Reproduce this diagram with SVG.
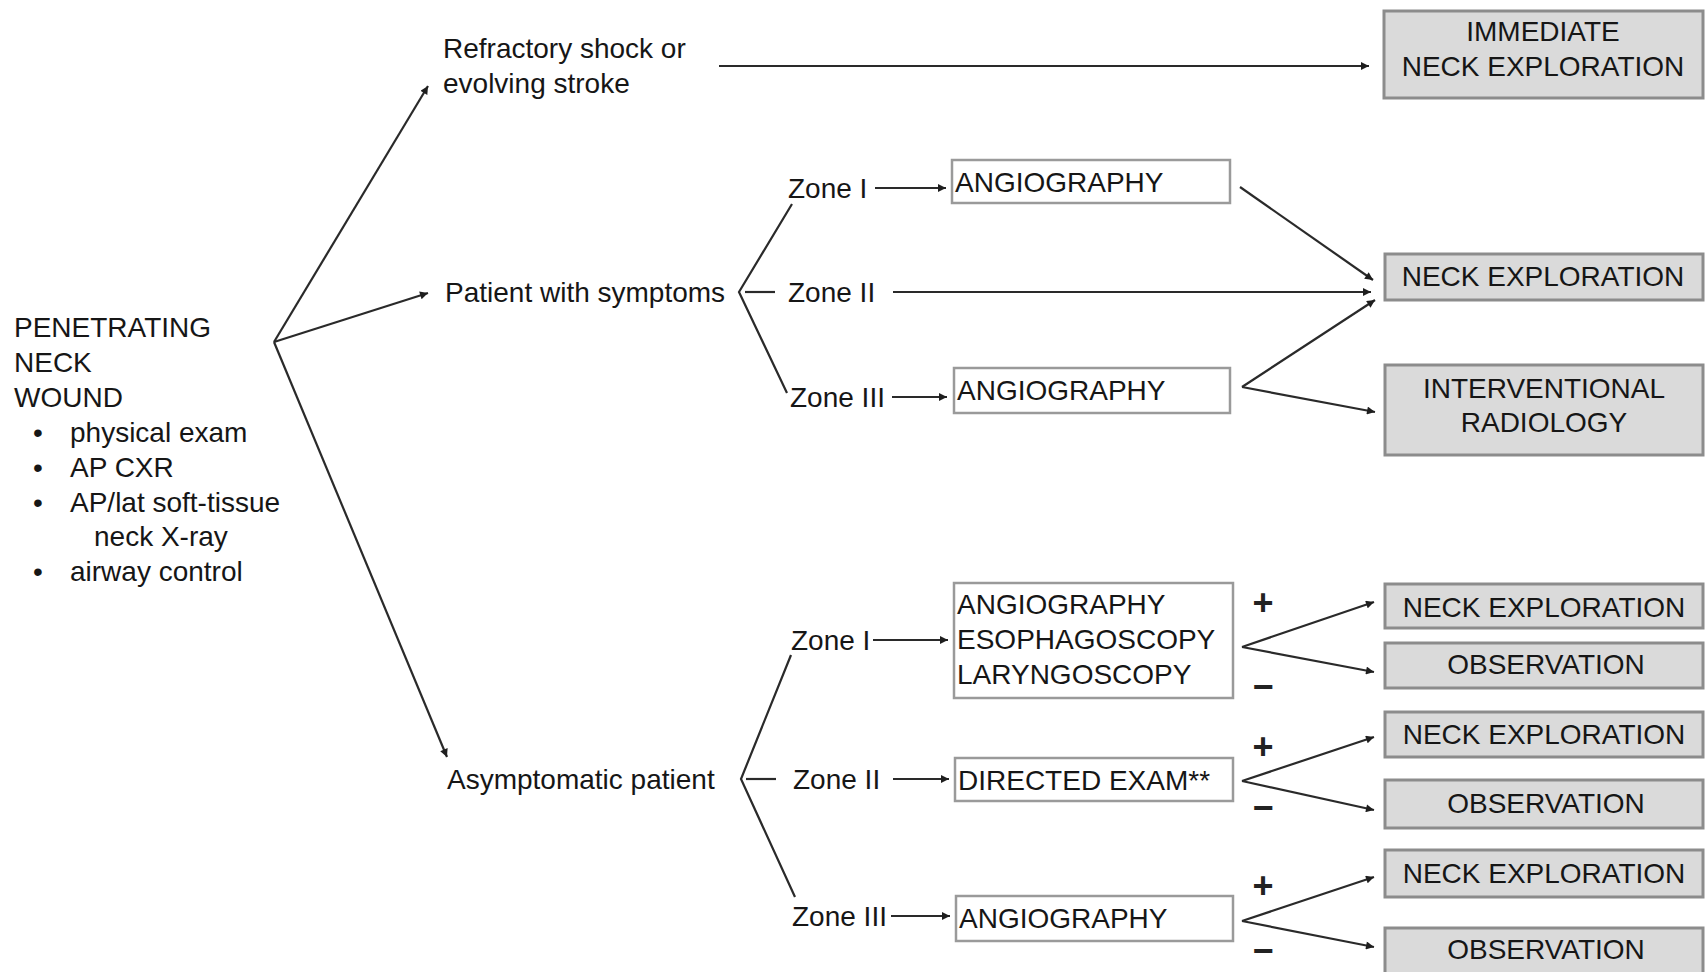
<svg xmlns="http://www.w3.org/2000/svg" width="1707" height="972" viewBox="0 0 1707 972">
<style>
.t{font-family:"Liberation Sans",Arial,sans-serif;font-size:28px;fill:#161616}
.c{text-anchor:middle}
.pm{font-family:"Liberation Sans",Arial,sans-serif;font-size:36px;font-weight:bold;fill:#222222;text-anchor:middle}
.gbox{fill:#dadada;stroke:#8c8c8c;stroke-width:3}
.wbox{fill:#ffffff;stroke:#9a9a9a;stroke-width:2.5}
.ln{stroke:#2a2a2a;stroke-width:2.2;fill:none}
.ar{marker-end:url(#ah)}
</style>
<defs>
<marker id="ah" viewBox="0 0 10 10" refX="10" refY="5" markerWidth="10" markerHeight="8" markerUnits="userSpaceOnUse" orient="auto">
<path d="M0,0 L10,5 L0,10 z" fill="#1e1e1e"/>
</marker>
</defs>
<rect width="1707" height="972" fill="#ffffff"/>

<g id="root">
<text class="t" x="14" y="337">PENETRATING</text>
<text class="t" x="14" y="372">NECK</text>
<text class="t" x="14" y="407">WOUND</text>
<text class="t" x="33" y="442">•</text><text class="t" x="70" y="442">physical exam</text>
<text class="t" x="33" y="477">•</text><text class="t" x="70" y="477">AP CXR</text>
<text class="t" x="33" y="512">•</text><text class="t" x="70" y="512">AP/lat soft-tissue</text>
<text class="t" x="94" y="546">neck X-ray</text>
<text class="t" x="33" y="581">•</text><text class="t" x="70" y="581">airway control</text>
</g>

<g id="refractory">
<text class="t" x="443" y="58">Refractory shock or</text>
<text class="t" x="443" y="93">evolving stroke</text>
</g>
<g id="symptoms"><text class="t" x="445" y="302">Patient with symptoms</text></g>
<g id="asymptomatic"><text class="t" x="447" y="789">Asymptomatic patient</text></g>

<g id="immediate">
<rect class="gbox" x="1384" y="11" width="319" height="87"/>
<text class="t c" x="1543" y="41">IMMEDIATE</text>
<text class="t c" x="1543" y="76">NECK EXPLORATION</text>
</g>

<g id="s-zones">
<text class="t" x="788" y="198">Zone I</text>
<text class="t" x="788" y="302">Zone II</text>
<text class="t" x="790" y="407">Zone III</text>
</g>
<g id="s-angio1"><rect class="wbox" x="952" y="160" width="278" height="43"/><text class="t" x="955" y="192">ANGIOGRAPHY</text></g>
<g id="s-angio3"><rect class="wbox" x="954" y="368" width="276" height="45"/><text class="t" x="957" y="400">ANGIOGRAPHY</text></g>
<g id="s-neck"><rect class="gbox" x="1385" y="254" width="318" height="46"/><text class="t c" x="1543" y="286">NECK EXPLORATION</text></g>
<g id="s-ir"><rect class="gbox" x="1385" y="365" width="318" height="90"/><text class="t c" x="1544" y="398">INTERVENTIONAL</text><text class="t c" x="1544" y="432">RADIOLOGY</text></g>

<g id="a-zones">
<text class="t" x="791" y="650">Zone I</text>
<text class="t" x="793" y="789">Zone II</text>
<text class="t" x="792" y="926">Zone III</text>
</g>
<g id="a-box1"><rect class="wbox" x="954" y="583" width="279" height="115"/>
<text class="t" x="957" y="614">ANGIOGRAPHY</text>
<text class="t" x="957" y="649">ESOPHAGOSCOPY</text>
<text class="t" x="957" y="684">LARYNGOSCOPY</text></g>
<g id="a-box2"><rect class="wbox" x="955" y="758" width="278" height="43"/><text class="t" x="958" y="790">DIRECTED EXAM**</text></g>
<g id="a-box3"><rect class="wbox" x="956" y="896" width="277" height="45"/><text class="t" x="959" y="928">ANGIOGRAPHY</text></g>

<g id="a-neck1"><rect class="gbox" x="1385" y="584" width="318" height="44"/><text class="t c" x="1544" y="617">NECK EXPLORATION</text></g>
<g id="a-obs1"><rect class="gbox" x="1385" y="643" width="318" height="45"/><text class="t c" x="1546" y="674">OBSERVATION</text></g>
<g id="a-neck2"><rect class="gbox" x="1385" y="712" width="318" height="45"/><text class="t c" x="1544" y="744">NECK EXPLORATION</text></g>
<g id="a-obs2"><rect class="gbox" x="1385" y="780" width="318" height="48"/><text class="t c" x="1546" y="813">OBSERVATION</text></g>
<g id="a-neck3"><rect class="gbox" x="1385" y="850" width="318" height="47"/><text class="t c" x="1544" y="883">NECK EXPLORATION</text></g>
<g id="a-obs3"><rect class="gbox" x="1385" y="928" width="318" height="48"/><text class="t c" x="1546" y="959">OBSERVATION</text></g>

<g id="signs">
<text class="pm" x="1263" y="615">+</text>
<text class="pm" x="1263" y="699">−</text>
<text class="pm" x="1263" y="759">+</text>
<text class="pm" x="1263" y="820">−</text>
<text class="pm" x="1263" y="898">+</text>
<text class="pm" x="1263" y="963">−</text>
</g>

<g id="connectors">
<line class="ln ar" x1="274" y1="342" x2="428" y2="86"/>
<line class="ln ar" x1="274" y1="342" x2="428" y2="293"/>
<line class="ln ar" x1="274" y1="342" x2="447" y2="757"/>
<line class="ln ar" x1="719" y1="66" x2="1369" y2="66"/>

<polyline class="ln" points="792,204 739,292 787,393"/>
<line class="ln" x1="745" y1="292" x2="775" y2="292"/>
<line class="ln ar" x1="875" y1="188" x2="946" y2="188"/>
<line class="ln ar" x1="893" y1="292" x2="1371" y2="292"/>
<line class="ln ar" x1="892" y1="397" x2="947" y2="397"/>
<line class="ln ar" x1="1240" y1="187" x2="1373" y2="280"/>
<line class="ln ar" x1="1242" y1="387" x2="1375" y2="300"/>
<line class="ln ar" x1="1242" y1="387" x2="1375" y2="412"/>

<polyline class="ln" points="791,655 741,779 795,897"/>
<line class="ln" x1="746" y1="779" x2="776" y2="779"/>
<line class="ln ar" x1="873" y1="640" x2="948" y2="640"/>
<line class="ln ar" x1="893" y1="779" x2="949" y2="779"/>
<line class="ln ar" x1="891" y1="916" x2="950" y2="916"/>

<line class="ln ar" x1="1242" y1="647" x2="1374" y2="602"/>
<line class="ln ar" x1="1242" y1="647" x2="1374" y2="672"/>
<line class="ln ar" x1="1242" y1="781" x2="1374" y2="737"/>
<line class="ln ar" x1="1242" y1="781" x2="1374" y2="810"/>
<line class="ln ar" x1="1242" y1="921" x2="1374" y2="877"/>
<line class="ln ar" x1="1242" y1="921" x2="1374" y2="947"/>
</g>
</svg>
